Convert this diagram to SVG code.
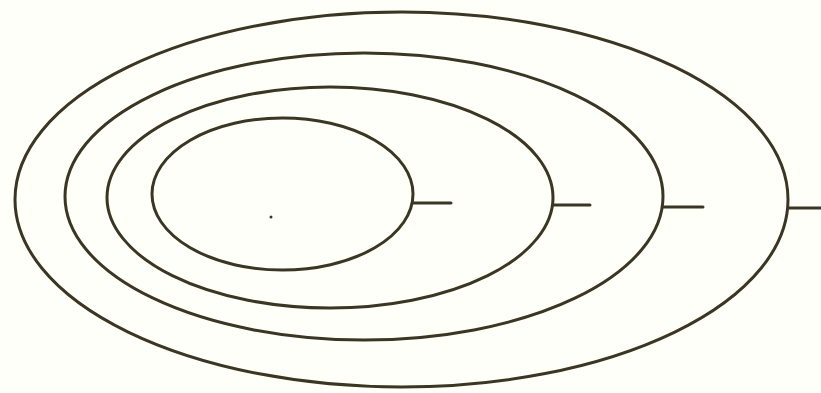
<svg xmlns="http://www.w3.org/2000/svg" width="821" height="393" viewBox="0 0 821 393">
<style>
.ring{fill:none;stroke:#3b3623;stroke-width:3}
.tick{stroke:#3b3623;stroke-width:3;stroke-linecap:round}
</style>
<rect width="821" height="393" fill="#fffffa"/>
<g id="ring1"><ellipse class="ring" cx="282.5" cy="194" rx="130.5" ry="76"/></g>
<g id="ring2"><ellipse class="ring" cx="330" cy="197.5" rx="223" ry="110.5"/></g>
<g id="ring3"><ellipse class="ring" cx="364" cy="196.5" rx="299" ry="143.5"/></g>
<g id="ring4"><ellipse class="ring" cx="401.5" cy="199.5" rx="386.5" ry="187.5"/></g>
<g id="connectors">
<line class="tick" x1="413" y1="203" x2="451" y2="203"/>
<line class="tick" x1="553" y1="205" x2="590" y2="205"/>
<line class="tick" x1="663" y1="207" x2="703" y2="207"/>
<line class="tick" x1="788" y1="208" x2="821" y2="208"/>
</g>
<circle cx="271" cy="217" r="1.5" fill="#3b3623"/>
</svg>
